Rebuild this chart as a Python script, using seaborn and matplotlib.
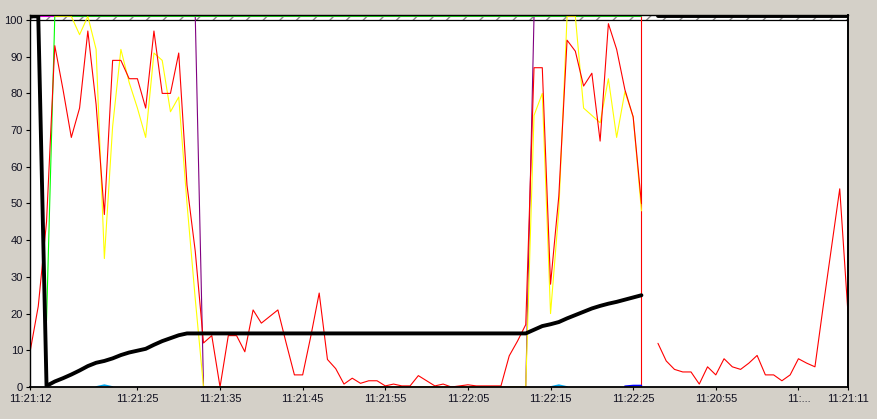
import numpy as np
import pandas as pd
import matplotlib
matplotlib.use("Agg")
import matplotlib.pyplot as plt
import seaborn as sns

# one sample per second, 100 samples on the scrolling display
# 101 = pegged above the scale (drawn in the hatched band), nan = no data
nan = np.nan
t = np.arange(100)

red = [9.5, 22, 45, 93, 81, 68, 76, 97, 77, 47,
       89, 89, 84, 84, 76, 97, 80, 80, 91, 55,
       37, 12, 14, 0, 14, 14, 9.6, 21, 17.4, 19.2,
       21, 12, 3.3, 3.3, 14, 25.6, 7.5, 5, 0.8, 2.4,
       1, 1.7, 1.7, 0.3, 0.8, 0.3, 0.3, 3.1, 1.7, 0.3,
       0.8, 0, 0.3, 0.6, 0.3, 0.3, 0.3, 0.3, 8.5, 12.5,
       17, 87, 87, 28, 52, 94.5, 91.5, 82, 85.5, 67,
       99, 92, 81, 73.6, 50, nan, 11.9, 7.1, 4.8, 4.1,
       4.1, 0.8, 5.5, 3.3, 7.7, 5.5, 4.8, 6.5, 8.6, 3.3,
       3.3, 1.7, 3.3, 7.7, 6.5, 5.5, 22, 38, 54, 20]

yellow = ([nan, nan, nan, 101, 101, 101, 96, 101, 92, 35,
           71, 92, 83, 76, 68, 91, 89, 75, 79, 50, 24]
          + [0] * 40
          + [74, 80, 20, 48, 101, 101, 76, 74, 72, 84, 68, 80.5, 73.6, 48]
          + [nan] * 25)

green = [nan, nan, 18] + [101] * 72 + [nan] * 25
magenta = [101] * 75 + [nan] * 25
purple = [101] * 21 + [0] * 40 + [101] * 14 + [nan] * 25

black = ([101, 101, 0.3, 1.5, 2.4, 3.4, 4.5, 5.7, 6.6, 7.1,
          7.8, 8.7, 9.4, 9.9, 10.4, 11.5, 12.5, 13.3, 14.1]
         + [14.6] * 42
         + [15.6, 16.6, 17.1, 17.7, 18.7, 19.6, 20.5, 21.4, 22.1, 22.7,
            23.2, 23.8, 24.4, 25.0]
         + [nan] + [101] * 24)

cyan = [nan] * 8 + [0, 0.5, 0] + [nan] * 52 + [0, 0.5, 0] + [nan] * 34
blue = [nan] * 72 + [0.2, 0.4, 0.4] + [nan] * 25

tick_pos = [0, 13, 23, 33, 43, 53, 63, 73, 83, 93, 99]
tick_labels = ["11:21:12", "11:21:25", "11:21:35", "11:21:45", "11:21:55",
               "11:22:05", "11:22:15", "11:22:25", "11:20:55", "11:...",
               "11:21:11"]

YTOP = 101.28


def series_frame(values):
    # split on gaps so the line breaks where there is no data
    d = pd.DataFrame({"t": t, "v": np.asarray(values, dtype=float)})
    d["seg"] = d["v"].isna().cumsum()
    return d.dropna()


sns.set_style("white")
plt.rcParams["font.family"] = ["Liberation Sans", "DejaVu Sans"]

fig = plt.figure(figsize=(8.77, 4.19), dpi=100, facecolor="#D4D0C8")
ax = fig.add_axes([30 / 877, 32 / 419, 818 / 877, 371.7 / 419])
ax.set_facecolor("white")

# hatched "above 100" band
ax.axhspan(100, YTOP, facecolor="white", edgecolor="#8a8a8a", hatch="//",
           linewidth=0, zorder=0.5)
ax.axhline(100, color="black", lw=0.9, zorder=1)

layers = [(purple, "#800080", 0.8),
          (magenta, "#FF00FF", 0.8),
          (green, "#00FF00", 0.8),
          (yellow, "#FFFF00", 0.8),
          (red, "#FF0000", 0.8),
          (cyan, "#00A8F0", 1.2),
          (blue, "#0000FF", 1.2),
          (black, "black", 2.8)]

for z, (vals, col, lw) in enumerate(layers):
    sns.lineplot(data=series_frame(vals), x="t", y="v", units="seg",
                 estimator=None, sort=False, color=col, lw=lw, ax=ax,
                 zorder=2 + z * 0.01, legend=False)

# current-time marker
ax.axvline(74, color="#FF0000", lw=0.8, zorder=1.5)

ax.set_xlim(0, 99)
ax.set_ylim(0, YTOP)
ax.set_yticks(range(0, 101, 10))
ax.set_xticks(tick_pos)
ax.set_xticklabels(tick_labels)
ax.set_xlabel("")
ax.set_ylabel("")
ax.tick_params(axis="x", direction="out", length=2.5, width=0.8,
               color="black", labelsize=8, labelcolor="#101020", pad=2.5,
               bottom=True)
ax.tick_params(axis="y", direction="out", length=3, width=0.8,
               color="black", labelsize=8, labelcolor="#101020", pad=2,
               left=True)
for sp in ax.spines.values():
    sp.set_color("black")
    sp.set_linewidth(1.0)
    sp.set_zorder(5)
ax.spines["right"].set_linewidth(1.4)
ax.spines["bottom"].set_linewidth(1.3)

fig.savefig("out.png", dpi=100, facecolor=fig.get_facecolor())
